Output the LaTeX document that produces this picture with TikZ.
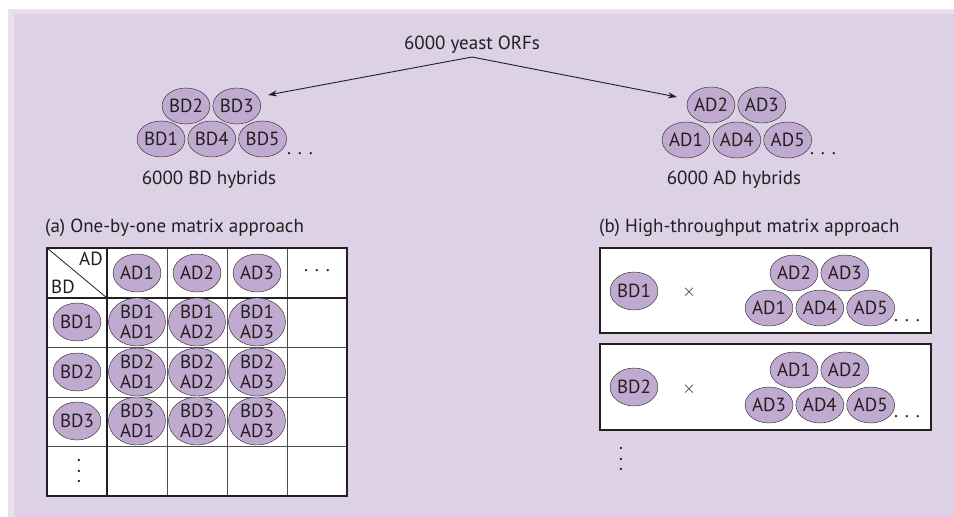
\documentclass[tikz,border=0pt]{standalone}
\usepackage{fontspec}
\setmainfont{PT Sans}
\usetikzlibrary{arrows, arrows.meta, positioning, shapes}

\definecolor{panelbg}{RGB}{221,209,229}
\definecolor{panelrim}{RGB}{232,224,238}
\definecolor{hybfill}{RGB}{193,170,207}
\definecolor{ink}{RGB}{35,31,32}

\begin{document}
\begin{tikzpicture}[x=1pt, y=-1pt, >={Stealth[length=9pt,width=6pt]}, font=\fontsize{19}{20}\selectfont, text=ink]
  \tikzset{
    blank/.style={
      inner sep=1pt,
      text centered},
    vdot/.style={
      inner sep=1pt,
      rotate=90},
    hyb/.style={
      ellipse,
      draw=ink,
      fill=hybfill,
      minimum width=47pt,
      minimum height=36pt,
      inner sep=0pt,
      text centered},
    pair/.style={
      ellipse,
      draw=ink,
      fill=hybfill,
      minimum width=57pt,
      minimum height=48pt,
      inner sep=0pt,
      align=center},
    plate/.style={
      draw=ink,
      line width=1.6pt,
      fill=white},
    arr/.style={
      color=ink,
      line width=0.9pt}}

  % background
  \fill[white] (0,0) rectangle (954,517);
  \fill[panelrim] (8,9) rectangle (954,517);
  \fill[panelbg] (14,14) rectangle (954,517);
  \useasboundingbox (0,0) rectangle (954,517);

  % yeast ORFs split into two hybrid sets
  \node[blank] (orfs) at (472,45) {6000 yeast ORFs};
  \coordinate (fork) at (472,57);
  \coordinate (bdtip) at (268,95);
  \coordinate (adtip) at (677,97);
  \path[->, arr] (fork) edge (bdtip);
  \path[->, arr] (fork) edge (adtip);

  \node[hyb] (bd1) at (161,139) {BD1};
  \node[hyb] (bd4) [right=2.5pt of bd1] {BD4};
  \node[hyb] (bd5) [right=2.5pt of bd4] {BD5};
  \node[hyb] (bd2) at (186,106) {BD2};
  \node[hyb] (bd3) [right=2.5pt of bd2] {BD3};
  \node[blank] (bddots) at (300,154) {. . .};
  \node[blank] (bdtext) at (209,180) {6000 BD hybrids};

  \node[hyb] (ad1) at (686,140) {AD1};
  \node[hyb] (ad4) [right=2.5pt of ad1] {AD4};
  \node[hyb] (ad5) [right=2.5pt of ad4] {AD5};
  \node[hyb] (ad2) at (711,105) {AD2};
  \node[hyb] (ad3) [right=2.5pt of ad2] {AD3};
  \node[blank] (addots) at (823,154) {. . .};
  \node[blank] (adtext) at (734,180) {6000 AD hybrids};

  % (a) matrix
  \node[blank, anchor=west] (capa) at (44,228) {(a) One-by-one matrix approach};
  \fill[white] (47,248) rectangle (347,496);
  \draw[ink!80, line width=0.8pt] (167,248) -- (167,496);
  \draw[ink!80, line width=0.8pt] (227,248) -- (227,496);
  \draw[ink!80, line width=0.8pt] (287,248) -- (287,496);
  \draw[ink!80, line width=0.8pt] (47,347) -- (347,347);
  \draw[ink!80, line width=0.8pt] (47,397) -- (347,397);
  \draw[ink!80, line width=0.8pt] (47,446) -- (347,446);
  \draw[ink, line width=1.4pt] (107,248) -- (107,496);
  \draw[ink, line width=1.4pt] (47,298) -- (347,298);
  \draw[ink, line width=0.8pt] (47,248) -- (107,298);
  \draw[ink, line width=1.6pt] (47,248) rectangle (347,496);

  \node[blank] (cornerad) at (91,259) {AD};
  \node[blank] (cornerbd) at (63,287) {BD};

  \node[hyb, minimum width=45pt, minimum height=38pt] (colad1) at (137,273) {AD1};
  \node[hyb, minimum width=45pt, minimum height=38pt] (colad2) at (197,273) {AD2};
  \node[hyb, minimum width=45pt, minimum height=38pt] (colad3) at (257,273) {AD3};
  \node[blank] (coldots) at (317,271) {. . .};

  \node[hyb, minimum width=45pt, minimum height=38pt] (rowbd1) at (77,322) {BD1};
  \node[hyb, minimum width=45pt, minimum height=38pt] (rowbd2) at (77,372) {BD2};
  \node[hyb, minimum width=45pt, minimum height=38pt] (rowbd3) at (77,421) {BD3};
  \node[vdot] (rowdots) at (79,471) {. . .};

  \node[pair] (p11) at (137,322) {BD1\\AD1};
  \node[pair] (p12) at (197,322) {BD1\\AD2};
  \node[pair] (p13) at (257,322) {BD1\\AD3};
  \node[pair] (p21) at (137,372) {BD2\\AD1};
  \node[pair] (p22) at (197,372) {BD2\\AD2};
  \node[pair] (p23) at (257,372) {BD2\\AD3};
  \node[pair] (p31) at (137,421) {BD3\\AD1};
  \node[pair] (p32) at (197,421) {BD3\\AD2};
  \node[pair] (p33) at (257,421) {BD3\\AD3};

  % (b) high-throughput
  \node[blank, anchor=west] (capb) at (598,228) {(b) High-throughput matrix approach};
  \draw[plate] (600,248) rectangle (931,333);
  \draw[plate] (600,344) rectangle (931,430);

  \node[hyb, minimum width=45pt, minimum height=38pt] (xbd1) at (634,291) {BD1};
  \node[blank] (times1) at (689,292) {$\times$};
  \node[hyb] (xaad1) at (769,308) {AD1};
  \node[hyb] (xaad4) [right=2.5pt of xaad1] {AD4};
  \node[hyb] (xaad5) [right=2.5pt of xaad4] {AD5};
  \node[hyb] (xaad2) at (794,273) {AD2};
  \node[hyb] (xaad3) [right=2.5pt of xaad2] {AD3};
  \node[blank] (xadots) at (907,321) {. . .};

  \node[hyb, minimum width=45pt, minimum height=38pt] (xbd2) at (634,387) {BD2};
  \node[blank] (times2) at (689,389) {$\times$};
  \node[hyb] (xbad3) at (769,405) {AD3};
  \node[hyb] (xbad4) [right=2.5pt of xbad3] {AD4};
  \node[hyb] (xbad5) [right=2.5pt of xbad4] {AD5};
  \node[hyb] (xbad1) at (794,370) {AD1};
  \node[hyb] (xbad2) [right=2.5pt of xbad1] {AD2};
  \node[blank] (xbdots) at (907,417) {. . .};

  \node[vdot] (xdots) at (621,459) {. . .};

\end{tikzpicture}
\end{document}
